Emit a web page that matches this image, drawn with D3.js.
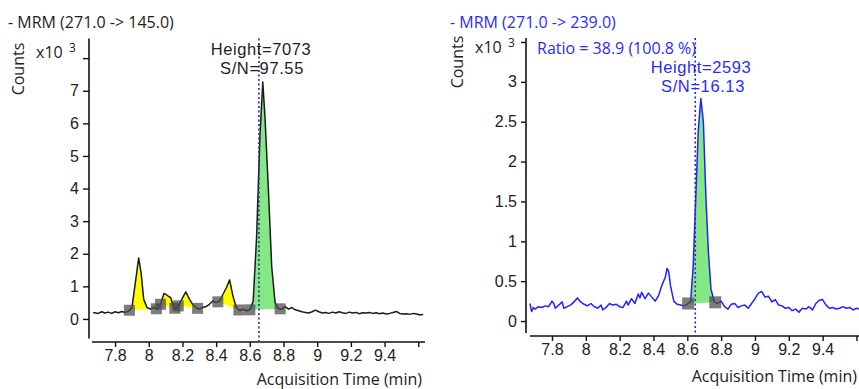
<!DOCTYPE html>
<html>
<head>
<meta charset="utf-8">
<script src="https://cdn.jsdelivr.net/npm/d3@7"></script>
<style>
  html, body { margin: 0; padding: 0; background: #fff; }
  svg { display: block; font-family: "Open Sans", "Liberation Sans", Arial, sans-serif; }
</style>
</head>
<body>
<svg id="chart" width="859" height="389"></svg>
<script>
// ---- Chromatogram data (counts in thousands) ----
const qualTime = [7.67,7.70,7.72,7.74,7.76,7.78,7.80,7.82,7.84,7.86,7.88,7.90,7.92,7.94,7.955,7.97,7.99,8.01,8.03,8.05,8.07,8.09,8.10,8.12,8.13,8.15,8.17,8.19,8.22,8.24,8.26,8.28,8.30,8.32,8.34,8.36,8.38,8.40,8.42,8.44,8.46,8.48,8.50,8.52,8.54,8.56,8.58,8.60,8.62,8.64,8.66,8.677,8.69,8.71,8.73,8.75,8.77,8.79,8.81,8.83,8.85,8.87,8.89,8.91,8.93,8.95,8.97,8.99,9.01,9.03,9.05,9.07,9.09,9.11,9.13,9.15,9.17,9.19,9.21,9.23,9.25,9.27,9.29,9.31,9.33,9.35,9.37,9.39,9.41,9.43,9.45,9.47,9.49,9.51,9.53,9.55,9.57,9.59,9.61,9.63];
const qualCounts = [0.20,0.17,0.22,0.18,0.21,0.17,0.22,0.19,0.23,0.20,0.24,0.35,1.10,1.87,1.40,0.60,0.35,0.30,0.35,0.30,0.45,0.78,0.76,0.68,0.66,0.32,0.35,0.55,0.83,0.62,0.45,0.35,0.30,0.35,0.38,0.45,0.55,0.50,0.55,0.75,0.95,1.20,0.70,0.35,0.25,0.30,0.25,0.28,0.55,2.50,5.60,7.27,6.20,4.00,1.60,0.50,0.32,0.30,0.38,0.30,0.35,0.28,0.25,0.22,0.20,0.18,0.22,0.27,0.22,0.18,0.20,0.17,0.21,0.18,0.22,0.19,0.17,0.21,0.18,0.20,0.16,0.19,0.18,0.20,0.17,0.19,0.16,0.18,0.15,0.17,0.20,0.23,0.17,0.15,0.16,0.14,0.17,0.15,0.12,0.14];

const ionTime = [7.67,7.68,7.69,7.70,7.72,7.74,7.76,7.78,7.80,7.81,7.82,7.84,7.86,7.87,7.89,7.91,7.93,7.95,7.97,7.99,8.01,8.03,8.05,8.07,8.09,8.10,8.12,8.14,8.16,8.18,8.20,8.22,8.24,8.25,8.27,8.29,8.31,8.32,8.33,8.35,8.37,8.39,8.41,8.43,8.45,8.47,8.48,8.49,8.50,8.52,8.54,8.56,8.58,8.60,8.62,8.635,8.65,8.665,8.68,8.695,8.71,8.725,8.74,8.76,8.78,8.80,8.82,8.84,8.86,8.88,8.90,8.92,8.94,8.96,8.98,9.00,9.02,9.04,9.06,9.08,9.10,9.12,9.14,9.16,9.18,9.20,9.22,9.24,9.26,9.28,9.30,9.32,9.34,9.36,9.38,9.40,9.42,9.44,9.46,9.48,9.50,9.52,9.54,9.56,9.58,9.60,9.615];
const ionCounts = [0.22,0.12,0.17,0.15,0.18,0.17,0.19,0.18,0.25,0.22,0.16,0.20,0.24,0.16,0.18,0.20,0.24,0.29,0.24,0.21,0.19,0.22,0.18,0.16,0.20,0.14,0.17,0.22,0.20,0.21,0.18,0.17,0.25,0.20,0.28,0.22,0.34,0.29,0.36,0.28,0.35,0.30,0.25,0.32,0.45,0.55,0.66,0.62,0.45,0.25,0.21,0.20,0.19,0.21,0.25,0.70,1.55,2.40,2.79,2.50,1.55,0.85,0.40,0.24,0.22,0.25,0.18,0.15,0.21,0.22,0.17,0.19,0.20,0.16,0.22,0.28,0.35,0.37,0.30,0.31,0.24,0.27,0.20,0.19,0.16,0.17,0.13,0.15,0.11,0.16,0.15,0.18,0.14,0.22,0.26,0.27,0.20,0.16,0.17,0.15,0.16,0.18,0.16,0.17,0.14,0.16,0.15];

// Integrated peaks: [start, end] retention times
const qualPeaks = [[7.885, 8.045], [8.07, 8.155], [8.175, 8.29], [8.41, 8.535]];
const qualMainPeak = [8.60, 8.78];
const ionMainPeak = [8.605, 8.765];

// Axis ticks
const xTicks = [7.8, 8.0, 8.2, 8.4, 8.6, 8.8, 9.0, 9.2, 9.4, 9.6];
const xTickLabels = ["7.8", "8", "8.2", "8.4", "8.6", "8.8", "9", "9.2", "9.4", ""];
const qualYTicks = [0, 1, 2, 3, 4, 5, 6, 7, 8];
const qualYTickLabels = ["0", "1", "2", "3", "4", "5", "6", "7", ""];
const ionYTicks = [0, 0.5, 1, 1.5, 2, 2.5, 3, 3.5];
const ionYTickLabels = ["0", "0.5", "1", "1.5", "2", "2.5", "3", ""];

// Retention-time markers
const qualRT = 8.654;
const ionRT = 8.647;

const FS = "16px";
const svg = d3.select("#chart");

function interpAt(times, vals, t) {
  const i = d3.bisectLeft(times, t);
  if (i <= 0) return vals[0];
  if (i >= times.length) return vals[vals.length - 1];
  const t0 = times[i - 1], t1 = times[i];
  const f = (t - t0) / (t1 - t0);
  return vals[i - 1] + f * (vals[i] - vals[i - 1]);
}

function drawPanel(cfg) {
  const g = svg.append("g");
  const x = d3.scaleLinear().domain(cfg.xDomain).range(cfg.xRange);
  const y = d3.scaleLinear().domain(cfg.yDomain).range(cfg.yRange);
  const pts = cfg.time.map((t, i) => [t, cfg.counts[i]]);

  // filled integration areas between trace and a straight baseline
  function peakArea(p, fill) {
    const [a, b] = p;
    const ya = interpAt(cfg.time, cfg.counts, a);
    const yb = interpAt(cfg.time, cfg.counts, b);
    const inner = pts.filter(d => d[0] > a && d[0] < b);
    const seg = [[a, ya], ...inner, [b, yb]];
    const base = t => ya + (t - a) / (b - a) * (yb - ya);
    g.append("path")
      .datum(seg)
      .attr("fill", fill)
      .attr("d", d3.area()
        .x(d => x(d[0]))
        .y0(d => y(base(d[0])))
        .y1(d => y(Math.max(d[1], base(d[0])))));
  }
  cfg.yellowPeaks.forEach(p => peakArea(p, "#ffff00"));
  peakArea(cfg.mainPeak, "#84e884");

  // trace
  g.append("path")
    .datum(pts)
    .attr("fill", "none")
    .attr("stroke", cfg.lineColor)
    .attr("stroke-width", 1.5)
    .attr("stroke-linejoin", "round")
    .attr("d", d3.line().x(d => x(d[0])).y(d => y(d[1])));

  // integration boundary markers
  const bounds = [];
  cfg.yellowPeaks.concat([cfg.mainPeak]).forEach(p => { bounds.push(p[0], p[1]); });
  g.selectAll("rect.mark").data(bounds).enter().append("rect")
    .attr("class", "mark")
    .attr("x", t => x(t) - cfg.markSize / 2)
    .attr("y", t => y(interpAt(cfg.time, cfg.counts, t)) - cfg.markSize / 2)
    .attr("width", cfg.markSize)
    .attr("height", cfg.markSize)
    .attr("fill", "#4a4a4a")
    .attr("fill-opacity", 0.72);

  // retention time dotted line
  g.append("line")
    .attr("x1", x(cfg.rt)).attr("x2", x(cfg.rt))
    .attr("y1", cfg.yRange[1]).attr("y2", cfg.rtBottom)
    .attr("stroke", "#2b2ba8")
    .attr("stroke-width", 1.6)
    .attr("stroke-dasharray", "2,2.5");

  // y axis
  const yAx = g.append("g").attr("transform", `translate(${cfg.yAxisX},0)`)
    .call(d3.axisLeft(y).tickValues(cfg.yTicks)
      .tickFormat((d, i) => cfg.yTickLabels[i]).tickSizeOuter(0).tickSize(cfg.yTickSize).tickPadding(4));
  yAx.select(".domain").attr("d", `M0,${cfg.yRange[1]}V${cfg.yRange[0]}`).attr("stroke", "#111").attr("stroke-width", 1.6);
  yAx.selectAll(".tick line").attr("stroke", "#111").attr("stroke-width", 1.4);
  yAx.selectAll("text").attr("fill", "#222").style("font-size", FS);

  // x axis
  const xAx = g.append("g").attr("transform", `translate(0,${cfg.xAxisY})`)
    .call(d3.axisBottom(x).tickValues(xTicks)
      .tickFormat((d, i) => xTickLabels[i]).tickSizeOuter(0).tickSize(5).tickPadding(3));
  xAx.select(".domain").attr("d", `M${cfg.xRange[0]},0H${cfg.xRange[1]}`).attr("stroke", "#111").attr("stroke-width", 1.6);
  xAx.selectAll(".tick line").attr("stroke", "#111").attr("stroke-width", 1.4);
  xAx.selectAll("text").attr("fill", "#222").style("font-size", FS);

  // titles and labels
  g.append("text").attr("x", cfg.titleX).attr("y", 28)
    .attr("fill", cfg.titleColor).style("font-size", FS).text(cfg.title);
  g.append("text")
    .attr("transform", `translate(${cfg.countsX},${cfg.countsY}) rotate(-90)`)
    .attr("text-anchor", "middle").attr("fill", "#222").style("font-size", FS).text("Counts");
  g.append("text").attr("x", cfg.expX).attr("y", cfg.expY)
    .attr("fill", "#222").style("font-size", FS).text("x10");
  g.append("text").attr("x", cfg.expX + 33).attr("y", cfg.expY - 6)
    .attr("fill", "#222").style("font-size", "12px").text("3");
  g.append("text").attr("x", cfg.xLabelX).attr("y", cfg.xLabelY)
    .attr("text-anchor", "end").attr("fill", "#222").style("font-size", FS)
    .text("Acquisition Time (min)");

  // peak annotations
  cfg.notes.forEach(n => {
    g.append("text").attr("x", n.x).attr("y", n.y)
      .attr("text-anchor", n.anchor).attr("fill", cfg.noteColor)
      .style("font-family", n.anchor === "middle" ? "'Liberation Sans', Arial, sans-serif" : null)
      .style("letter-spacing", n.anchor === "middle" ? "0.6px" : null)
      .style("font-size", n.anchor === "middle" ? "16.5px" : FS)
      .text(n.text);
  });
}

drawPanel({
  time: qualTime, counts: qualCounts,
  xDomain: [7.663, 9.64], xRange: [92, 425],
  yDomain: [-0.6, 8.6], yRange: [338.5, 38.6],
  yAxisX: 89, xAxisY: 342, yTickSize: 6,
  yTicks: qualYTicks, yTickLabels: qualYTickLabels,
  yellowPeaks: qualPeaks, mainPeak: qualMainPeak,
  lineColor: "#1c1c1c", markSize: 11,
  rt: qualRT, rtBottom: 341,
  title: "- MRM (271.0 -> 145.0)", titleX: 8, titleColor: "#1e1e1e",
  countsX: 24, countsY: 69,
  expX: 36, expY: 58,
  xLabelX: 422, xLabelY: 385,
  noteColor: "#1e1e1e",
  notes: [
    { x: 261, y: 55, anchor: "middle", text: "Height=7073" },
    { x: 262, y: 74, anchor: "middle", text: "S/N=97.55" }
  ]
});

drawPanel({
  time: ionTime, counts: ionCounts,
  xDomain: [7.67, 9.615], xRange: [530, 859],
  yDomain: [-0.15, 3.55], yRange: [333, 38],
  yAxisX: 526, xAxisY: 336, yTickSize: 5,
  yTicks: ionYTicks, yTickLabels: ionYTickLabels,
  yellowPeaks: [], mainPeak: ionMainPeak,
  lineColor: "#2222ff", markSize: 12,
  rt: ionRT, rtBottom: 335,
  title: "- MRM (271.0 -> 239.0)", titleX: 450, titleColor: "#2a2aff",
  countsX: 463, countsY: 62,
  expX: 475, expY: 53,
  xLabelX: 857, xLabelY: 382,
  noteColor: "#2a2aff",
  notes: [
    { x: 537, y: 54, anchor: "start", text: "Ratio = 38.9 (100.8 %)" },
    { x: 701, y: 73, anchor: "middle", text: "Height=2593" },
    { x: 703, y: 92, anchor: "middle", text: "S/N=16.13" }
  ]
});
</script>
</body>
</html>
